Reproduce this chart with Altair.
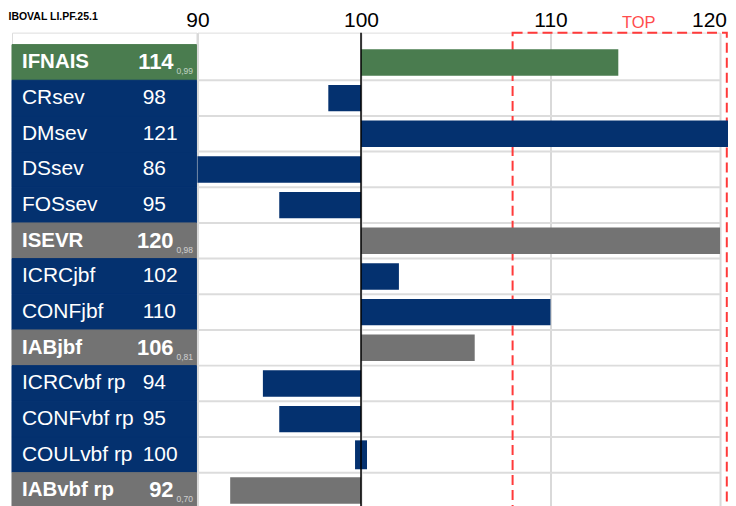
import altair as alt
import pandas as pd

# ---- data ----
labels = ["IFNAIS", "CRsev", "DMsev", "DSsev", "FOSsev", "ISEVR", "ICRCjbf",
          "CONFjbf", "IABjbf", "ICRCvbf rp", "CONFvbf rp", "COULvbf rp", "IABvbf rp"]
values = [114, 98, 121, 86, 95, 120, 102, 110, 106, 94, 95, 100, 92]
kinds = ["main", "component", "component", "component", "component", "index",
         "component", "component", "index", "component", "component", "component", "index"]
reliability = ["0,99", "", "", "", "", "0,98", "", "", "0,81", "", "", "", "0,70"]
axis_ticks = [90, 100, 110, 120]
top_zone = [108, 120.4]
top_label_pos = [115.2]
top_label = "TOP"
header = "IBOVAL  LI.PF.25.1"

FONT = "Liberation Sans"
H = 477
kind_domain = ["main", "index", "component"]
kind_colors = ["#4a7c4f", "#737373", "#04316f"]

df = pd.DataFrame({"label": labels, "value": values, "kind": kinds, "cd": reliability})
zone_df = pd.DataFrame({"lo": [top_zone[0]], "hi": [top_zone[1]]})
toplab_df = pd.DataFrame({"x": top_label_pos, "t": [top_label]})

yscale = alt.Scale(domain=labels, paddingInner=0, paddingOuter=0.1677, align=1)
y_enc = alt.Y("label:N", sort=labels, scale=yscale, axis=None)
color = alt.Color("kind:N", scale=alt.Scale(domain=kind_domain, range=kind_colors), legend=None)
stroke = alt.Stroke("kind:N", scale=alt.Scale(domain=kind_domain, range=kind_colors), legend=None)

# ---- left table ----
base = alt.Chart(df)
cells = base.mark_rect(strokeWidth=1).encode(y=y_enc, color=color, stroke=stroke)
lab_grp = base.transform_filter("datum.kind != 'component'").mark_text(
    align="left", baseline="middle", fontSize=20.5, fontWeight="bold", color="white"
).encode(y=y_enc, x=alt.value(10), text="label:N")
lab_item = base.transform_filter("datum.kind == 'component'").mark_text(
    align="left", baseline="middle", fontSize=21, color="white"
).encode(y=y_enc, x=alt.value(10), text="label:N")
val_grp = base.transform_filter("datum.kind != 'component'").mark_text(
    align="right", baseline="middle", fontSize=22, fontWeight="bold", color="white"
).encode(y=y_enc, x=alt.value(162), text="value:Q")
val_item = base.transform_filter("datum.kind == 'component'").mark_text(
    align="left", baseline="middle", fontSize=21, color="white"
).encode(y=y_enc, x=alt.value(131), text="value:Q")
cd_txt = base.transform_filter("datum.kind != 'component'").mark_text(
    align="left", baseline="alphabetic", dy=12, fontSize=8.5, color="white", opacity=0.65
).encode(y=y_enc, x=alt.value(165), text="cd:N")

table = alt.layer(cells, lab_grp, lab_item, val_grp, val_item, cd_txt).properties(
    width=185, height=H,
    title=alt.TitleParams(header, anchor="start", fontSize=10.5, fontWeight="bold",
                          color="black", dx=-3, offset=2, baseline="alphabetic"),
)

# ---- bars ----
xscale = alt.Scale(domain=axis_ticks, range=[0, 164, 354, 524])
x_axis = alt.Axis(orient="top", values=axis_ticks, labelFontSize=21, labelColor="black",
                  labelPadding=6, labelBaseline="alphabetic", ticks=False, domain=False,
                  grid=True, gridColor="#d9d9d9", gridWidth=2, title=None,
                  labelFlush=False, labelOverlap=False,
                  labelOffset=alt.condition("datum.value == 120", alt.value(-11), alt.value(0)))

sep = base.transform_filter(f"datum.label != '{labels[0]}'").mark_rule(
    color="#dcdcdc", strokeWidth=2
).encode(y=alt.Y("label:N", sort=labels, scale=yscale, axis=None, bandPosition=0))

bars = base.transform_filter("datum.value != 100").transform_calculate(
    start="max(datum.value, 90)"
).mark_bar(height=alt.RelativeBandSize(0.74)).encode(
    x=alt.X("start:Q", scale=xscale, axis=x_axis), x2=alt.datum(100), y=y_enc, color=color
)
tick100 = base.transform_filter("datum.value == 100").mark_tick(
    thickness=12, size=29, opacity=1
).encode(x=alt.X("value:Q", scale=xscale), y=y_enc, color=color)

zone = alt.Chart(zone_df).mark_rect(
    filled=False, color="#ff3a3a", strokeWidth=2, strokeDash=[10, 5]
).encode(x=alt.X("lo:Q", scale=xscale), x2="hi:Q")

rule100 = alt.Chart(zone_df).mark_rule(color="black", strokeWidth=1.5).encode(x=alt.datum(100))

toptext = alt.Chart(toplab_df).mark_text(
    color="#ff4d4d", fontSize=16.5, baseline="alphabetic", align="center"
).encode(x=alt.X("x:Q", scale=xscale), y=alt.value(-5), text="t:N")

plot = alt.layer(sep, zone, bars, tick100, rule100, toptext).properties(width=524, height=H)

chart = alt.hconcat(table, plot, spacing=1, bounds="flush").properties(
    padding={"left": 0, "top": 0, "right": -10, "bottom": 0}
).configure_view(stroke=None).configure(font=FONT)

chart.save("out.html", embed_options={"renderer": "svg", "actions": False})
